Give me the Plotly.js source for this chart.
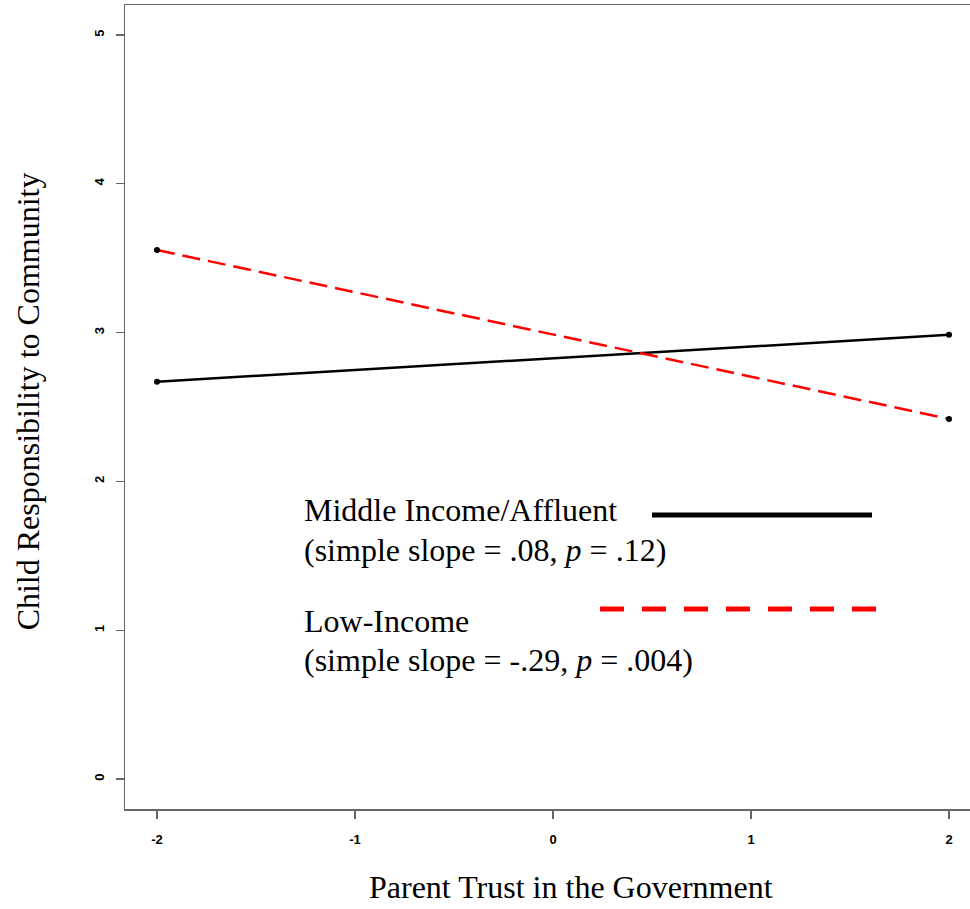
<!DOCTYPE html>
<html>
<head>
<meta charset="utf-8">
<script src="https://cdn.plot.ly/plotly-3.0.1.min.js"></script>
<style>html,body{margin:0;padding:0;background:#fff;}</style>
</head>
<body>
<div id="chart" style="width:970px;height:909px;"></div>
<script>
const trustX = [-2, 2];
const middleIncome = [2.67, 2.985];
const lowIncome = [3.555, 2.42];
const xTicks = [-2, -1, 0, 1, 2];
const yTicks = [0, 1, 2, 3, 4, 5];
const xTitle = 'Parent Trust in the Government';
const yTitle = 'Child Responsibility to Community';
const legendLabels = ['Middle Income/Affluent', '(simple slope = .08, <i>p</i> = .12)',
                      'Low-Income', '(simple slope = -.29, <i>p</i> = .004)'];

const serif = 'Liberation Serif, Times New Roman, serif';
const traces = [
  {x: trustX, y: middleIncome, mode: 'lines+markers', type: 'scatter',
   line: {color: '#000', width: 2.5}, marker: {color: '#000', size: 6}},
  {x: trustX, y: lowIncome, mode: 'lines+markers', type: 'scatter',
   line: {color: '#ff0000', width: 2.5, dash: '18px,8px'}, marker: {color: '#000', size: 6}}
];

const axisCommon = {
  showgrid: false, zeroline: false, showline: true, linecolor: '#666', linewidth: 1.5,
  ticks: 'outside', ticklen: 8, tickcolor: '#666', tickwidth: 1.2,
  tickfont: {family: 'Liberation Sans, Arial, sans-serif', size: 13, color: '#000', weight: 'bold'}
};

const titleFont = {family: serif, size: 32, color: '#000'};

const layout = {
  width: 970, height: 909,
  margin: {l: 125, r: 0, t: 5, b: 100},
  paper_bgcolor: '#fff', plot_bgcolor: '#fff',
  showlegend: false,
  xaxis: Object.assign({}, axisCommon, {
    range: [-2.1616, 2.106], tickvals: xTicks, ticktext: xTicks.map(String),
    mirror: true, ticklabelstandoff: 10
  }),
  yaxis: Object.assign({}, axisCommon, {
    range: [-0.2016, 5.2016], tickvals: yTicks, ticktext: yTicks.map(String),
    tickangle: -90, ticklabelstandoff: 6
  }),
  annotations: [
    {text: xTitle, x: 0.528, y: -0.097, xanchor: 'center', font: titleFont},
    {text: yTitle, x: -0.1148, y: 0.507, xanchor: 'center', textangle: -90, font: titleFont},
    {text: legendLabels[0], x: 0.21, y: 0.372},
    {text: legendLabels[1], x: 0.21, y: 0.322},
    {text: legendLabels[2], x: 0.21, y: 0.2338},
    {text: legendLabels[3], x: 0.21, y: 0.1853}
  ].map(a => Object.assign({xref: 'paper', yref: 'paper', xanchor: 'left', yanchor: 'middle',
    showarrow: false, font: {family: serif, size: 32, color: '#000'}}, a)),
  shapes: [
    {type: 'line', xref: 'paper', yref: 'paper', x0: 0.6237, x1: 0.884, y0: 0.3657, y1: 0.3657,
     line: {color: '#000', width: 5}},
    {type: 'line', xref: 'paper', yref: 'paper', x0: 0.5621, x1: 0.8888, y0: 0.2488, y1: 0.2488,
     line: {color: '#ff0000', width: 5, dash: '24px,18px'}}
  ]
};

Plotly.newPlot('chart', traces, layout, {displayModeBar: false, staticPlot: true});
</script>
</body>
</html>
